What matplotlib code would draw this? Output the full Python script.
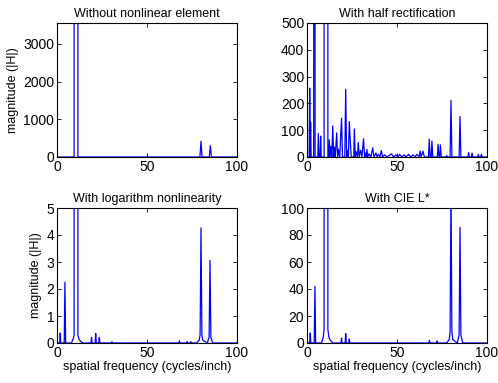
import matplotlib
matplotlib.use("Agg")
import matplotlib.pyplot as plt

plt.rcParams['font.family'] = ['Liberation Sans', 'DejaVu Sans']

# ---------------- data ----------------
titles = ["Without nonlinear element", "With half rectification",
          "With logarithm nonlinearity", "With CIE L*"]

# Panel 1: without nonlinear element
freq_a = [0, 9.5, 10.5, 11.6, 79.4, 80.0, 80.6, 84.6, 85.2, 85.8, 100]
mag_a  = [0, 0, 1e6, 0, 0, 420, 0, 0, 300, 0, 0]

# Panel 2: with half rectification
freq_b = [0, 1.2, 1.5, 1.8, 2.0, 2.3, 3.7, 4.1, 4.5, 6.0, 6.3, 6.7, 7.3, 7.6, 7.9,
          9.5, 10.5, 11.6, 12.1, 12.4, 12.8, 13.3, 13.8, 14.3, 14.8, 15.2, 15.7,
          16.5, 17.0, 17.4, 18.2, 18.7, 19.2, 19.7, 21.0, 21.5, 22.0, 22.4, 23.0,
          23.5, 24.1, 24.6, 26.0, 26.3, 26.8, 27.2, 28.0, 28.5, 29.0, 29.8, 30.5,
          31.4, 32.0, 32.4, 33.0, 33.3, 33.8, 34.4, 35.5, 36.5, 37.2, 38.3, 39.0,
          39.6, 40.5, 41.3, 42.0, 43.0, 44.5, 47.0, 48.0, 49.5, 50.5, 51.5, 52.5,
          54.0, 55.0, 56.5, 57.5, 59.0, 60.0, 61.0, 62.3, 62.8, 63.4, 64.4, 65.2,
          67.5, 67.9, 68.4, 69.0, 69.4, 69.9, 72.4, 72.8, 73.3, 73.7, 74.1, 74.6,
          77.0, 77.6, 78.2, 79.5, 80.0, 80.5, 84.5, 85.0, 85.5, 89.4, 89.8, 90.2,
          91.3, 91.7, 92.1, 94.8, 95.2, 95.6, 96.5, 96.9, 97.3, 100]
mag_b  = [0, 0, 257, 0, 130, 0, 0, 5000, 0, 0, 88, 0, 0, 78, 0,
          0, 1e5, 0, 0, 64, 0, 40, 0, 116, 0, 37, 0,
          90, 0, 29, 0, 78, 145, 0, 0, 253, 0, 25, 0,
          132, 52, 0, 0, 105, 0, 20, 0, 54, 0, 25, 0,
          68, 0, 15, 0, 28, 0, 12, 0, 34, 0, 15, 0,
          10, 0, 24, 0, 8, 0, 12, 0, 8, 0, 10, 0,
          8, 0, 10, 0, 8, 0, 10, 0, 22, 0, 22, 0,
          0, 67, 0, 0, 60, 0, 0, 48, 0, 0, 45, 0,
          0, 5, 0, 0, 211, 0, 0, 151, 0, 0, 17, 0,
          0, 15, 0, 0, 10, 0, 0, 10, 0, 0]

# Panel 3: with logarithm nonlinearity
freq_c = [0, 1.5, 1.8, 2.1, 4.0, 4.4, 4.8, 8.0, 9.0, 9.5, 10.5, 11.6, 12.2, 13.2,
          14.5, 18.9, 19.2, 19.5, 21.2, 21.5, 21.8, 23.2, 23.5, 23.8, 30.0, 30.5,
          31.0, 67.7, 68.0, 68.3, 72.0, 72.3, 72.6, 74.0, 74.3, 74.6, 77.5, 79.0,
          79.5, 80.0, 80.5, 81.0, 83.5, 84.5, 85.0, 85.5, 86.5, 92.0, 100]
mag_c  = [0, 0, 0.37, 0, 0, 2.25, 0, 0, 0.15, 0.3, 2000, 0.3, 0.15, 0.05,
          0, 0, 0.21, 0, 0, 0.35, 0, 0, 0.21, 0, 0, 0.04,
          0, 0, 0.08, 0, 0, 0.05, 0, 0, 0.05, 0, 0, 0.1,
          0.3, 4.26, 0.3, 0.1, 0, 0.2, 3.06, 0.2, 0, 0, 0]

# Panel 4: with CIE L*
freq_d = [0, 1.5, 1.8, 2.1, 4.0, 4.4, 4.8, 8.0, 9.0, 9.5, 10.5, 11.6, 12.2, 13.2,
          14.5, 18.9, 19.2, 19.5, 21.2, 21.5, 21.8, 23.2, 23.5, 23.8, 67.7, 68.0,
          68.3, 72.0, 72.3, 72.6, 77.5, 79.0, 79.5, 80.0, 80.5, 81.0, 83.5, 84.5,
          85.0, 85.5, 86.5, 100]
mag_d  = [0, 0, 7.4, 0, 0, 42, 0, 0, 4, 10, 40000, 10, 4, 1.5,
          0, 0, 3.7, 0, 0, 7, 0, 0, 3, 0, 0, 2,
          0, 0, 1.5, 0, 0, 2.5, 8, 115, 8, 2.5, 0, 6, 85.7, 6, 0, 0]

freqs = [freq_a, freq_b, freq_c, freq_d]
mags = [mag_a, mag_b, mag_c, mag_d]
ylims = [3550, 500, 5, 100]
yticks = [[0, 1000, 2000, 3000], [0, 100, 200, 300, 400, 500],
          [0, 1, 2, 3, 4, 5], [0, 20, 40, 60, 80, 100]]
xticks = [0, 50, 100]

# ---------------- figure ----------------
W, H = 498, 383
fig = plt.figure(figsize=(W / 100, H / 100), dpi=100)

boxes = [(57, 23, 180, 134), (307, 23, 180, 134),
         (57, 208, 180, 135), (307, 208, 180, 135)]

for i, (x, y, w, h) in enumerate(boxes):
    ax = fig.add_axes([x / W, 1 - (y + h) / H, w / W, h / H])
    ax.plot(freqs[i], mags[i], color=(0, 0, 1), lw=0.9)
    ax.set_xlim(0, 100)
    ax.set_ylim(0, ylims[i])
    ax.set_xticks(xticks)
    ax.set_yticks(yticks[i])
    ax.tick_params(direction='in', top=True, right=True, length=3,
                   width=0.6, labelsize=10, pad=2)
    for s in ax.spines.values():
        s.set_linewidth(0.8)
    ax.set_title(titles[i], fontsize=9, pad=4)
    if i in (0, 2):
        ax.set_ylabel("magnitude (|H|)", fontsize=9, labelpad=3)
    if i in (2, 3):
        ax.set_xlabel("spatial frequency (cycles/inch)", fontsize=9, labelpad=1)

fig.savefig("out.png", dpi=100)
